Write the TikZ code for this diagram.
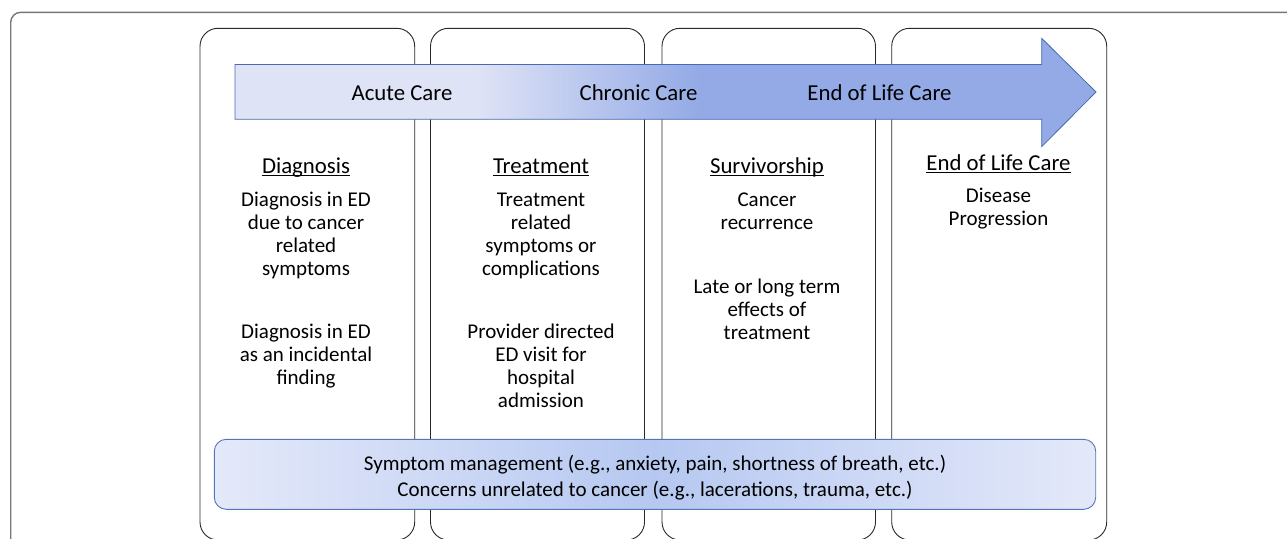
\documentclass[tikz,border=0pt]{standalone}
\usepackage{fontspec}
\setmainfont{Carlito}

\definecolor{framegrey}{RGB}{118,118,118}
\definecolor{colline}{RGB}{40,40,40}
\definecolor{arrlight}{RGB}{223,227,246}
\definecolor{arrdark}{RGB}{147,170,230}
\definecolor{arrline}{RGB}{72,106,178}
\definecolor{barlight}{RGB}{228,233,249}
\definecolor{bardark}{RGB}{182,200,241}
\definecolor{barline}{RGB}{84,118,184}

% light on the left, turning blue towards the head of the arrow
\pgfdeclarehorizontalshading{arrowshade}{100bp}{color(0bp)=(arrlight); color(39bp)=(arrlight); color(52bp)=(arrdark); color(100bp)=(arrdark)}
% light at both ends, deepest in the middle
\pgfdeclarehorizontalshading{barshade}{100bp}{color(0bp)=(barlight); color(25bp)=(barlight); color(50bp)=(bardark); color(75bp)=(barlight); color(100bp)=(barlight)}

\begin{document}
\begin{tikzpicture}[x=1pt,y=-1pt,
  colbox/.style={draw=colline, line width=0.9pt, rounded corners=18pt},
  outerframe/.style={draw=framegrey, line width=1.4pt, rounded corners=10pt},
  phase/.style={font=\fontsize{22.8}{27}\selectfont, inner sep=0pt, anchor=base},
  head/.style={font=\fontsize{22.8}{27}\selectfont, inner sep=0pt, anchor=base},
  body/.style={font=\fontsize{21}{23}\selectfont, align=center, inner sep=0pt, anchor=north},
  bartext/.style={font=\fontsize{21}{26}\selectfont, align=center, inner sep=0pt, anchor=north},
  uline/.style={line width=1.1pt}]

\useasboundingbox (0,0) rectangle (1287,538);

% outer frame and the four stage columns run past the page edge
\begin{scope}
  \clip (0,0) rectangle (1287,538);
  \draw[outerframe] (10.7,12.3) rectangle (1320,580);
  \draw[colbox] (200,28.3) rectangle (414.7,540);
  \draw[colbox] (430.5,28.3) rectangle (644.5,540);
  \draw[colbox] (662,28.3) rectangle (875.5,540);
  \draw[colbox] (891.7,28.3) rectangle (1106.7,540);
\end{scope}

% care continuum arrow
\shadedraw[shading=arrowshade, draw=arrline, line width=0.8pt, line join=miter]
  (235,64.5) -- (1041.7,64.5) -- (1041.7,38.3) -- (1096,92) -- (1041.7,146.7)
  -- (1041.7,119.3) -- (235,119.3) -- cycle;

\node[phase] (acute)   at (402,100.5)   {Acute Care};
\node[phase] (chronic) at (638.5,100.5) {Chronic Care};
\node[phase] (eol)     at (879.5,100.5) {End of Life Care};

% column headings
\node[head] (h1) at (306,173)   {Diagnosis};
\node[head] (h2) at (541,173)   {Treatment};
\node[head] (h3) at (767,173)   {Survivorship};
\node[head] (h4) at (998.5,170) {End of Life Care};
\foreach \h in {h1,h2,h3,h4}
  \draw[uline] ([yshift=-2.5pt]\h.base west) -- ([yshift=-2.5pt]\h.base east);

% column contents
\node[body] (d1) at (306,190.6) {\strut Diagnosis in ED\\due to cancer\\related\\symptoms};
\node[body] (d2) at (306,322.6) {\strut Diagnosis in ED\\as an incidental\\finding};
\node[body] (t1) at (541,190.6) {\strut Treatment\\related\\symptoms or\\complications};
\node[body] (t2) at (541,322.6) {\strut Provider directed\\ED visit for\\hospital\\admission};
\node[body] (s1) at (767,190.6) {\strut Cancer\\recurrence};
\node[body] (s2) at (767,277.6) {\strut Late or long term\\effects of\\treatment};
\node[body] (e1) at (998.5,186.6) {\strut Disease\\Progression};

% band spanning all stages
\shadedraw[shading=barshade, draw=barline, line width=0.9pt, rounded corners=12pt]
  (214.3,439.3) rectangle (1095.7,509.3);
\node[bartext] (band) at (655,451.8)
  {\strut Symptom management (e.g., anxiety, pain, shortness of breath, etc.)\\Concerns unrelated to cancer (e.g., lacerations, trauma, etc.)};

\end{tikzpicture}
\end{document}
